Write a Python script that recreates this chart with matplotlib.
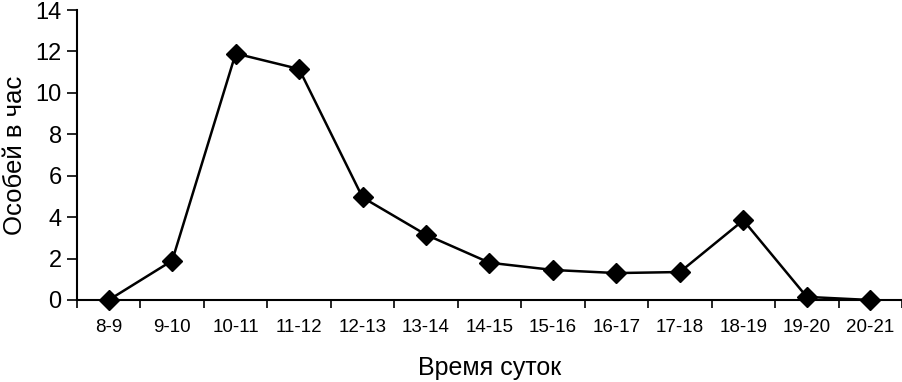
import matplotlib.pyplot as plt

# time of day intervals and counts per hour
hours = ["8-9", "9-10", "10-11", "11-12", "12-13", "13-14", "14-15",
         "15-16", "16-17", "17-18", "18-19", "19-20", "20-21"]
counts = [0, 1.9, 11.9, 11.15, 4.95, 3.15, 1.8, 1.45, 1.3, 1.35, 3.85, 0.15, 0]

plt.rcParams['font.family'] = ['Liberation Sans', 'DejaVu Sans']

fig = plt.figure(figsize=(9.03, 3.82), dpi=100)
ax = fig.add_axes([77/903, 1 - 300/382, 825/903, 290/382])

x = [i + 0.5 for i in range(len(hours))]
ax.plot(x, counts, color='black', linewidth=1.8, marker='D', markersize=10,
        clip_on=False)

ax.set_xlim(0, len(hours))
ax.set_ylim(0, 14)
ax.set_yticks(range(0, 15, 2))
ax.set_xticks(range(len(hours) + 1))
ax.set_xticklabels([])
ax.set_xticks(x, minor=True)
ax.set_xticklabels(hours, minor=True, fontsize=13.5)
ax.tick_params(axis='x', which='minor', length=0, pad=14)
ax.tick_params(axis='x', which='major', length=6, width=1.2, direction='out')
ax.tick_params(axis='y', length=7, width=1.2, labelsize=17, pad=4)

for s in ['top', 'right']:
    ax.spines[s].set_visible(False)
for s in ['left', 'bottom']:
    ax.spines[s].set_linewidth(1.5)

ax.set_xlabel("Время суток", fontsize=18, labelpad=14)
ax.set_ylabel("Особей в час", fontsize=18.5, labelpad=6)

fig.savefig("out.png", dpi=100)
